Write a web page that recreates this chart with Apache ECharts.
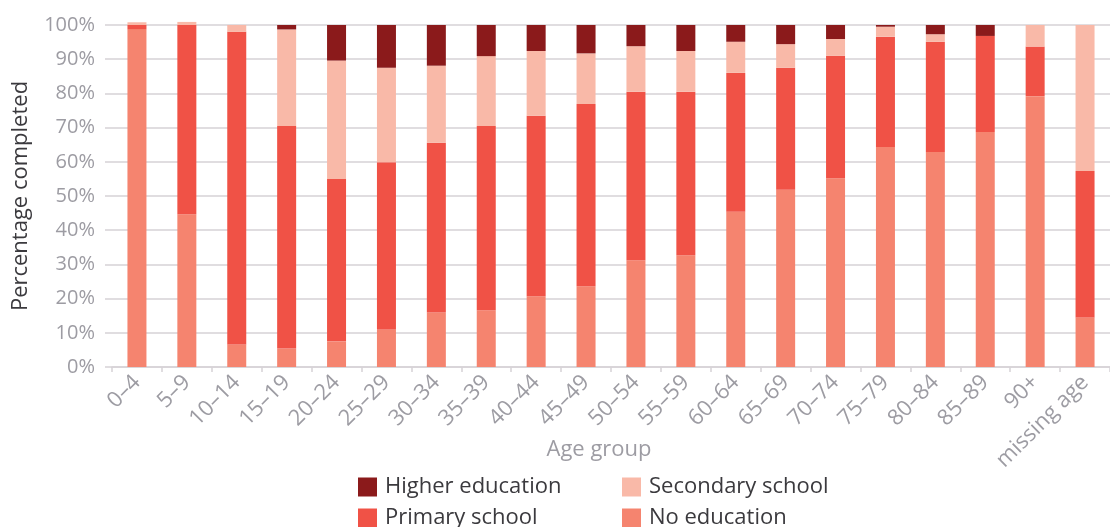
<!DOCTYPE html>
<html>
<head>
<meta charset="utf-8">
<script src="https://cdn.jsdelivr.net/npm/echarts@6/dist/echarts.min.js"></script>
<style>
html,body{margin:0;padding:0;background:#fff;}
#chart{width:1110px;height:527px;}
</style>
</head>
<body>
<div id="chart"></div>
<script>
const categories = ['0–4','5–9','10–14','15–19','20–24','25–29','30–34','35–39','40–44','45–49','50–54','55–59','60–64','65–69','70–74','75–79','80–84','85–89','90+','missing age'];
const noEducation   = [98.8, 44.7, 6.6, 5.4, 7.5, 11.0, 15.9, 16.6, 20.7, 23.6, 31.2, 32.7, 45.4, 51.8, 55.2, 64.3, 62.9, 68.7, 79.2, 14.5];
const primarySchool = [1.2, 55.3, 91.4, 65.1, 47.5, 48.9, 49.7, 53.9, 52.8, 53.3, 49.3, 47.8, 40.6, 35.7, 35.8, 32.3, 32.2, 28.1, 14.5, 42.8];
const secondarySchool = [0.8, 0.9, 2.0, 28.2, 34.6, 27.6, 22.5, 20.4, 18.9, 14.8, 13.3, 11.9, 9.1, 6.9, 4.9, 2.9, 2.2, 0.0, 6.3, 42.7];
const higherEducation = [0.0, 0.0, 0.0, 1.3, 10.4, 12.5, 11.9, 9.1, 7.6, 8.3, 6.2, 7.6, 4.9, 5.6, 4.1, 0.5, 2.7, 3.2, 0.0, 0.0];
const yTicks = [0, 10, 20, 30, 40, 50, 60, 70, 80, 90, 100];

const FONT = 'Open Sans';
const GRAY = '#9d9ca3';
const DARK = '#3b3a3e';
const LINE = '#d6d2d6';

const chart = echarts.init(document.getElementById('chart'), null, {renderer: 'canvas'});
function bar(name, data, color) {
  return {
    name: name, type: 'bar', stack: 'total', data: data,
    barWidth: 19, clip: false,
    itemStyle: {color: color},
    emphasis: {disabled: true}
  };
}
function legendItem(name, left, top) {
  return {
    data: [name], left: left, top: top, padding: 0,
    width: 300, height: 30,
    itemWidth: 19, itemHeight: 19,
    icon: 'rect',
    textStyle: {fontFamily: FONT, fontSize: 22, color: DARK, lineHeight: 19, padding: [0, 0, 0, 3]}
  };
}
chart.setOption({
  animation: false,
  textStyle: {fontFamily: FONT},
  grid: {left: 112, top: 25, width: 1000, height: 342, containLabel: false},
  legend: [
    legendItem('Higher education', 358, 476),
    legendItem('Primary school', 358, 507),
    legendItem('Secondary school', 622, 476),
    legendItem('No education', 622, 507)
  ],
  xAxis: {
    type: 'category',
    data: categories,
    name: 'Age group',
    nameLocation: 'middle',
    nameGap: 72,
    nameMoveOverlap: false,
    nameTextStyle: {fontFamily: FONT, fontSize: 22, color: GRAY, padding: [0, 24, 0, 0]},
    axisLine: {show: true, lineStyle: {color: LINE, width: 1.5}},
    axisTick: {show: true, length: 5, lineStyle: {color: LINE, width: 1.5}},
    axisLabel: {rotate: 45, fontFamily: FONT, fontSize: 22, color: GRAY, margin: 12, interval: 0}
  },
  yAxis: {
    type: 'value',
    min: yTicks[0], max: yTicks[yTicks.length - 1], interval: 10,
    name: 'Percentage completed',
    nameLocation: 'middle',
    nameGap: 80,
    nameMoveOverlap: false,
    nameTextStyle: {fontFamily: FONT, fontSize: 22, color: DARK},
    axisLine: {show: false},
    axisTick: {show: true, length: 7, lineStyle: {color: LINE, width: 1.5}},
    splitLine: {show: true, lineStyle: {color: LINE, width: 1.5}},
    axisLabel: {formatter: '{value}%', fontFamily: FONT, fontSize: 20, color: GRAY, margin: 17}
  },
  series: [
    bar('No education', noEducation, '#f5846f'),
    bar('Primary school', primarySchool, '#f05246'),
    bar('Secondary school', secondarySchool, '#f9b9a8'),
    bar('Higher education', higherEducation, '#8b1a1b')
  ]
});
</script>
</body>
</html>
